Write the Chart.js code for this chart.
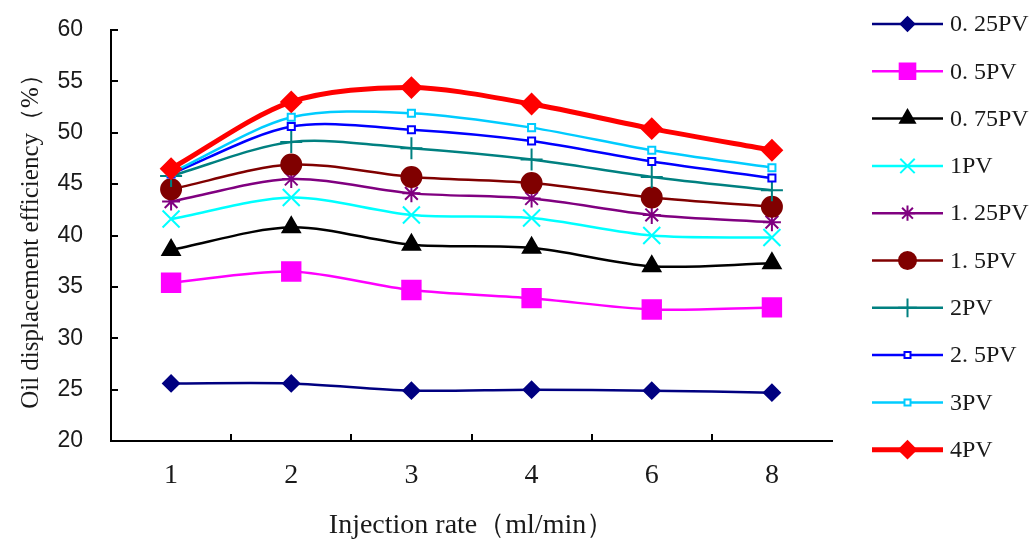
<!DOCTYPE html>
<html>
<head>
<meta charset="utf-8">
<script src="https://cdn.jsdelivr.net/npm/chart.js@4/dist/chart.umd.min.js"></script>
<style>
  html, body { margin: 0; padding: 0; background: #fff; }
  #wrap { width: 1035px; height: 542px; }
</style>
</head>
<body>
<div id="wrap"><canvas id="chart" width="1035" height="542"></canvas></div>
<script>
const rates = ["1", "2", "3", "4", "6", "8"];
const seriesNames = ["0. 25PV", "0. 5PV", "0. 75PV", "1PV", "1. 25PV", "1. 5PV", "2PV", "2. 5PV", "3PV", "4PV"];

const pv025 = [25.6, 25.6, 24.9, 25.0, 24.9, 24.7];
const pv05 = [35.4, 36.5, 34.7, 33.9, 32.8, 33.0];
const pv075 = [38.6, 40.8, 39.1, 38.8, 37.0, 37.3];
const pv1 = [41.6, 43.7, 42.0, 41.7, 40.0, 39.8];
const pv125 = [43.3, 45.5, 44.1, 43.6, 42.0, 41.3];
const pv15 = [44.5, 46.9, 45.7, 45.1, 43.7, 42.8];
const pv2 = [45.8, 49.1, 48.5, 47.4, 45.7, 44.4];
const pv25 = [46.0, 50.6, 50.3, 49.2, 47.2, 45.6];
const pv3 = [46.1, 51.5, 51.9, 50.5, 48.3, 46.6];
const pv4 = [46.5, 53.0, 54.4, 52.8, 50.4, 48.3];

const yTicks = [20, 25, 30, 35, 40, 45, 50, 55, 60];

const allValues = [pv025, pv05, pv075, pv1, pv125, pv15, pv2, pv25, pv3, pv4];

// line colour, marker, marker radius, marker fill, line width
const styles = [
  { c: "#000080", ps: "rectRot", r: 8, fill: "#000080", lw: 2.5 },
  { c: "#FF00FF", ps: "rect", r: 13, fill: "#FF00FF", lw: 2.5 },
  { c: "#000000", ps: "triangle", r: 10, fill: "#000000", lw: 2.5 },
  { c: "#00FFFF", ps: "crossRot", r: 12, fill: "#00FFFF", lw: 2.5 },
  { c: "#800080", ps: "star", r: 9, fill: "#800080", lw: 2.5 },
  { c: "#800000", ps: "circle", r: 10, fill: "#800000", lw: 2.5 },
  { c: "#008080", ps: "cross", r: 11, fill: "#008080", lw: 2.5 },
  { c: "#0000FF", ps: "rect", r: 5, fill: "#ffffff", lw: 2.5 },
  { c: "#00CCFF", ps: "rect", r: 5, fill: "#ffffff", lw: 2.5 },
  { c: "#FF0000", ps: "rectRot", r: 10, fill: "#FF0000", lw: 5 },
];

const datasets = allValues.map((vals, i) => ({
  label: seriesNames[i],
  data: vals,
  borderColor: styles[i].c,
  backgroundColor: styles[i].fill,
  borderWidth: styles[i].lw,
  pointStyle: styles[i].ps,
  pointRadius: styles[i].r,
  pointBorderColor: styles[i].c,
  pointBackgroundColor: styles[i].fill,
  pointBorderWidth: 2,
  tension: 0.3,
  order: 10 - i,
}));

// tick marks inside the plot + legend on the right
const extras = {
  id: "extras",
  afterDraw(chart) {
    const ctx = chart.ctx;
    const xs = chart.scales.x;
    const ys = chart.scales.y;
    const area = chart.chartArea;
    ctx.save();
    ctx.strokeStyle = "#000";
    ctx.lineWidth = 2;
    yTicks.forEach((v) => {
      const y = Math.round(ys.getPixelForValue(v));
      ctx.beginPath();
      ctx.moveTo(area.left, y);
      ctx.lineTo(area.left + 7, y);
      ctx.stroke();
    });
    const step = xs.getPixelForValue(1) - xs.getPixelForValue(0);
    for (let i = 0; i < rates.length - 1; i++) {
      const x = Math.round(xs.getPixelForValue(i) + step / 2);
      ctx.beginPath();
      ctx.moveTo(x, area.bottom);
      ctx.lineTo(x, area.bottom - 7);
      ctx.stroke();
    }

    // legend
    const lx0 = 872, lx1 = 943, tx = 950;
    const top = 24, gap = 47.3;
    chart.data.datasets.forEach((ds, i) => {
      const y = top + i * gap;
      ctx.strokeStyle = ds.borderColor;
      ctx.lineWidth = ds.borderWidth;
      ctx.beginPath();
      ctx.moveTo(lx0, y);
      ctx.lineTo(lx1, y);
      ctx.stroke();
      ctx.fillStyle = ds.pointBackgroundColor;
      ctx.strokeStyle = ds.pointBorderColor;
      ctx.lineWidth = 2;
      if (Chart.helpers && Chart.helpers.drawPoint) {
        Chart.helpers.drawPoint(ctx, {
          pointStyle: ds.pointStyle,
          radius: ds.pointRadius * 0.85,
          rotation: 0,
          borderWidth: 2,
        }, (lx0 + lx1) / 2, y);
      }
      ctx.fillStyle = "#1a1a1a";
      ctx.font = '24px "Liberation Serif"';
      ctx.textBaseline = "middle";
      ctx.textAlign = "left";
      ctx.fillText(ds.label, tx, y + 1);
    });
    ctx.restore();
  },
};

new Chart(document.getElementById("chart"), {
  type: "line",
  data: { labels: rates, datasets: datasets },
  options: {
    responsive: false,
    animation: false,
    layout: { padding: { top: 30, right: 203, left: 0, bottom: 0 } },
    plugins: {
      legend: { display: false },
      tooltip: { enabled: false },
    },
    scales: {
      x: {
        offset: true,
        grid: { display: false },
        border: { color: "#000", width: 2 },
        ticks: {
          color: "#1a1a1a",
          padding: 10,
          font: { family: "Liberation Serif", size: 28 },
        },
        title: {
          display: true,
          text: "Injection rate（ml/min）",
          color: "#1a1a1a",
          font: { family: "Liberation Serif", size: 28 },
          padding: { top: 0, bottom: 0 },
        },
        afterFit(scale) { scale.height = 101; },
      },
      y: {
        min: 20,
        max: 60,
        grid: { display: false },
        border: { color: "#000", width: 2 },
        ticks: {
          stepSize: 5,
          color: "#1a1a1a",
          padding: 20,
          font: { family: "Liberation Sans", size: 23, lineHeight: 0.7 },
        },
        title: {
          display: true,
          text: "Oil displacement efficiency（%）",
          color: "#1a1a1a",
          font: { family: "Liberation Serif", size: 25 },
          padding: { top: 16, bottom: 0 },
        },
        afterFit(scale) { scale.width = 111; },
      },
    },
  },
  plugins: [extras],
});
</script>
</body>
</html>
